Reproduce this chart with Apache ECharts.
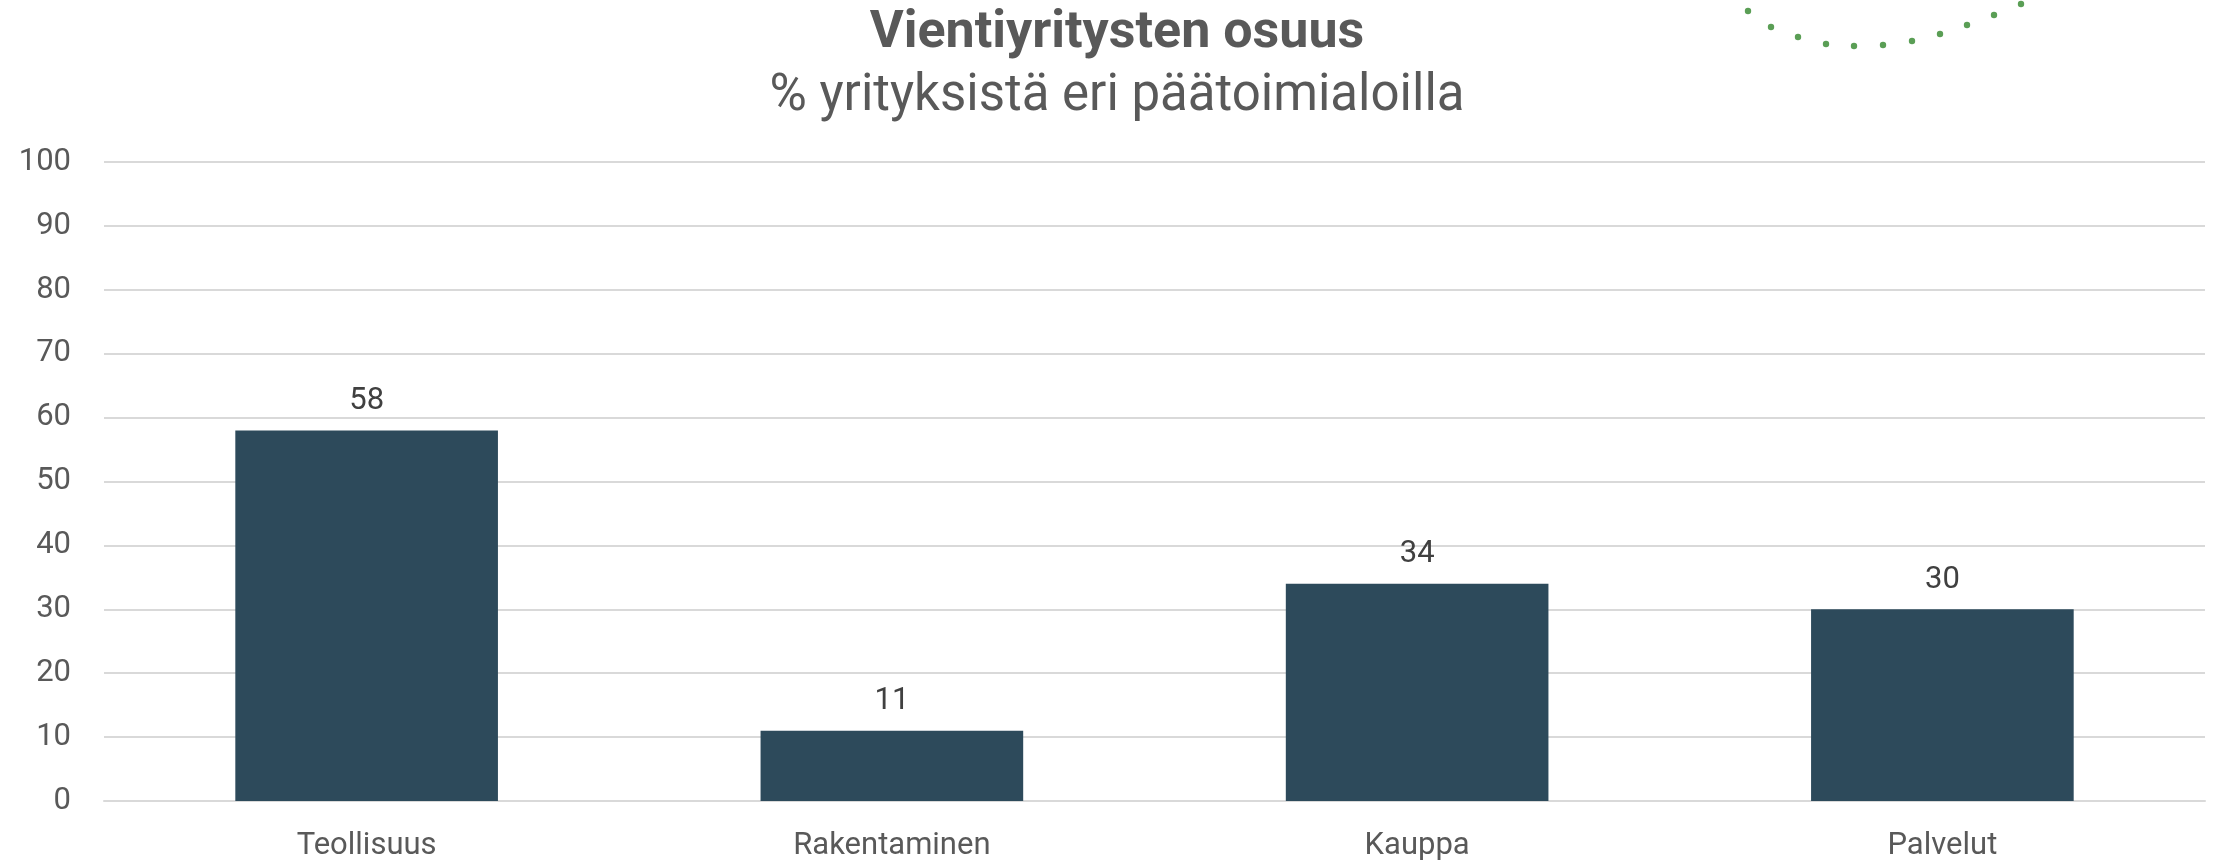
<!DOCTYPE html>
<html>
<head>
<meta charset="utf-8">
<title>Vientiyritysten osuus</title>
<script src="https://cdn.jsdelivr.net/npm/echarts@6/dist/echarts.min.js"></script>
<style>
  html, body { margin: 0; padding: 0; background: #fff; }
  #chart { width: 2218px; height: 863px; }
</style>
</head>
<body>
<div id="chart"></div>
<script>
// data
var categories = ['Teollisuus', 'Rakentaminen', 'Kauppa', 'Palvelut']
var shares = [58, 11, 34, 30]
var yTicks = [0, 10, 20, 30, 40, 50, 60, 70, 80, 90, 100]

// decorative dotted arc (logo fragment, top right)
var logoDots = [
  [1748, 11], [1771, 27], [1798, 37], [1826, 44], [1854, 46], [1883, 45],
  [1912, 41], [1940, 34], [1967, 25], [1994, 15], [2021, 4]
]

var textColor = '#595959'
var font = 'Roboto, "Noto Sans", sans-serif'

var chart = echarts.init(document.getElementById('chart'))

chart.setOption({
  animation: false,
  backgroundColor: '#ffffff',
  title: [{
    text: 'Vientiyritysten osuus',
    left: 1112,
    top: 3,
    textAlign: 'center',
    textStyle: {
      fontFamily: font,
      fontWeight: 'bold',
      fontSize: 52,
      color: textColor
    }
  }, {
    text: '% yrityksistä eri päätoimialoilla',
    left: 1112,
    top: 67,
    textAlign: 'center',
    textStyle: {
      fontFamily: font,
      fontWeight: 'normal',
      fontSize: 51,
      color: textColor
    }
  }],
  graphic: logoDots.map(function (p) {
    return {
      type: 'circle',
      shape: { cx: p[0], cy: p[1], r: 3.2 },
      style: { fill: '#5a9e55' },
      silent: true
    }
  }),
  grid: {
    left: 104,
    right: 13,
    top: 162,
    bottom: 62
  },
  xAxis: {
    type: 'category',
    data: categories,
    axisLine: {
      show: true,
      lineStyle: { color: '#d9d9d9', width: 2 }
    },
    axisTick: { show: false },
    axisLabel: {
      margin: 30,
      fontFamily: font,
      fontSize: 31,
      color: textColor
    }
  },
  yAxis: {
    type: 'value',
    min: yTicks[0],
    max: yTicks[yTicks.length - 1],
    interval: 10,
    axisLine: { show: false },
    axisTick: { show: false },
    axisLabel: {
      margin: 33,
      fontFamily: font,
      fontSize: 31,
      color: textColor
    },
    splitLine: {
      lineStyle: { color: '#d9d9d9', width: 2 }
    }
  },
  series: [{
    name: 'Vientiyritysten osuus',
    type: 'bar',
    data: shares,
    barCategoryGap: '50%',
    itemStyle: { color: '#2d4a5b' },
    label: {
      show: true,
      position: 'top',
      distance: 14,
      fontFamily: font,
      fontSize: 31,
      color: '#404040'
    }
  }]
})
</script>
</body>
</html>
